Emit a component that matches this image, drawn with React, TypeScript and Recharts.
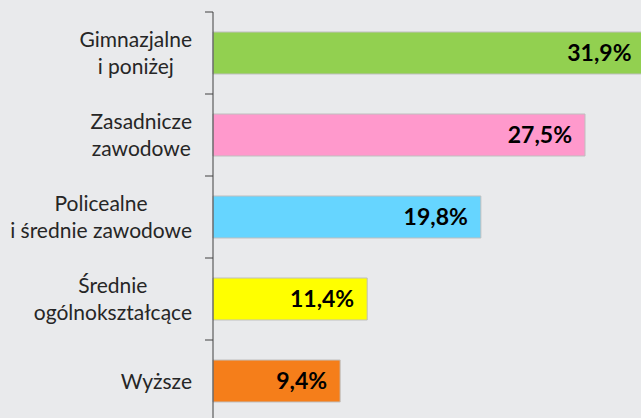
import { Bar, BarChart, Cell, LabelList, XAxis, YAxis } from 'recharts';

const categories = ['Gimnazjalne\ni poniżej', 'Zasadnicze\nzawodowe', 'Policealne\ni średnie zawodowe', 'Średnie\nogólnokształcące', 'Wyższe'];
const shares = [31.9, 27.5, 19.8, 11.4, 9.4];
const colors = ['#92D050', '#FF99CC', '#66D5FF', '#FFFF00', '#F57E1A'];

const data = categories.map((name, i) => ({ name, value: shares[i] }));

const AXIS_X = 213;
const TOP = 12;
const PLOT_H = 410;
const band = PLOT_H / categories.length;

const CategoryTick = ({ y, payload }: any) => {
  const lines = String(payload.value).split('\n');
  return (
    <g>
      <line x1={AXIS_X - 8} x2={AXIS_X} y1={y - band / 2} y2={y - band / 2} stroke="#404040" />
      <foreignObject x={0} y={y - 41} width={192} height={80}>
        <div style={{ display: 'flex', justifyContent: 'flex-end', alignItems: 'center', height: '100%' }}>
          <div style={{ textAlign: 'center', fontFamily: 'Lato', fontSize: 21, lineHeight: '27px', color: '#262626', whiteSpace: 'nowrap' }}>
            {lines.map((l, i) => <div key={i}>{l}</div>)}
          </div>
        </div>
      </foreignObject>
    </g>
  );
};

export default function App() {
  return (
    <div style={{ position: 'absolute', left: 0, top: 0, width: 641, height: 418, overflow: 'hidden', background: '#E9EAEC' }}>
      <BarChart
        layout="vertical"
        width={700}
        height={440}
        data={data}
        margin={{ top: TOP, right: 0, bottom: 440 - TOP - PLOT_H, left: 0 }}
      >
        <XAxis type="number" domain={[0, 36]} hide />
        <YAxis
          type="category"
          dataKey="name"
          width={AXIS_X}
          interval={0}
          tickLine={false}
          axisLine={{ stroke: '#404040' }}
          tick={<CategoryTick />}
        />
        <Bar dataKey="value" barSize={42} stroke="#BFBFBF" strokeWidth={1} isAnimationActive={false}>
          {data.map((d, i) => <Cell key={d.name} fill={colors[i]} />)}
          <LabelList
            dataKey="value"
            position="insideRight"
            offset={13}
            formatter={(v: any) => Number(v).toFixed(1).replace('.', ',') + '%'}
            style={{ fontFamily: 'Lato', fontWeight: 700, fontSize: 23, fill: '#000' }}
          />
        </Bar>
      </BarChart>
    </div>
  );
}
